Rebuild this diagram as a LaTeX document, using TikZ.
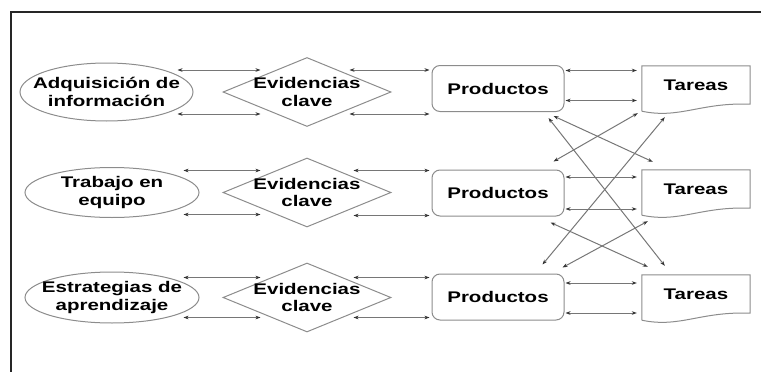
\documentclass[tikz,border=0pt]{standalone}
\usepackage{fontspec}
\newfontfamily\diagfont{Liberation Sans}[FakeStretch=1.33]
\usepackage{tikz}
\usetikzlibrary{positioning}
\usetikzlibrary{shapes.geometric,arrows.meta}
\usetikzlibrary{calc}
\definecolor{edgegray}{HTML}{8C8C8C}
\definecolor{linkgray}{HTML}{767676}
% outline of a Tareas node (document shape with wavy bottom)
\newcommand{\docoutline}[1]{%
  \draw[outline] ($(#1.south west)+(0,7)$) -- (#1.north west) -- (#1.north east) -- (#1.south east)
    .. controls ($(#1.south east)+(-50,-2)$) and ($(#1.south west)+(38,15)$) .. ($(#1.south west)+(0,7)$);}

\tikzset{
  every node/.style={font=\diagfont\bfseries\fontsize{15.4}{17.5}\selectfont,align=center},
  outline/.style={draw=edgegray,line width=1pt},
  meta/.style={ellipse,outline,inner sep=0pt},
  evid/.style={diamond,outline,inner sep=0pt,minimum width=168pt,minimum height=69pt},
  prod/.style={rectangle,rounded corners=8pt,outline,minimum width=132pt,minimum height=46pt},
  tarea/.style={rectangle,inner sep=0pt,minimum width=108pt,minimum height=38pt},
  link/.style={<->,draw=linkgray,line width=1pt},
}

\begin{document}
\begin{tikzpicture}[x=1pt,y=-1pt,>={Stealth[length=5pt,width=3.6pt,color=black!80]}]
  \useasboundingbox (0,0) rectangle (761,372);
  % frame
  \draw[line width=2pt,black!85] (761,12) -- (11,12) -- (11,372);
  % row 1
  \node[meta,minimum width=173pt,minimum height=58pt,label={center:Adquisición de\\información}] (ad1) at (106.5,92) {};
  \node[evid,label={center:Evidencias\\clave}] (ev1) at (307,92) {};
  \node[prod] (pr1) at (498,88.5) {Productos};
  \node[tarea] (ta1) at (696,85) {Tareas};
  \docoutline{ta1}
  % row 2
  \node[meta,minimum width=174pt,minimum height=50pt,label={center:Trabajo en\\equipo}] (ad2) at (112,192.5) {};
  \node[evid,label={center:Evidencias\\clave}] (ev2) at (307,192.5) {};
  \node[prod] (pr2) at (498,193) {Productos};
  \node[tarea] (ta2) at (696,189) {Tareas};
  \docoutline{ta2}
  % row 3
  \node[meta,minimum width=174pt,minimum height=51pt,label={center:Estrategias de\\aprendizaje}] (ad3) at (112,297.5) {};
  \node[evid,label={center:Evidencias\\clave}] (ev3) at (307,297.5) {};
  \node[prod] (pr3) at (498,297) {Productos};
  \node[tarea] (ta3) at (696,294) {Tareas};
  \docoutline{ta3}
  % pairs of arrows along each row
  \draw[link] ($(ad1.east)+(-16,-22)$) -- ($(ev1.west)+(38,-22)$);
  \draw[link] ($(ad1.east)+(-16,22)$) -- ($(ev1.west)+(38,22)$);
  \draw[link] ($(ad2.east)+(-16,-22)$) -- ($(ev2.west)+(38,-22)$);
  \draw[link] ($(ad2.east)+(-16,22)$) -- ($(ev2.west)+(38,22)$);
  \draw[link] ($(ad3.east)+(-16,-20)$) -- ($(ev3.west)+(38,-20)$);
  \draw[link] ($(ad3.east)+(-16,20)$) -- ($(ev3.west)+(38,20)$);
  \draw[link,shorten >=2pt] ($(ev1.east)+(-42,-22)$) coordinate (b1) -- (b1 -| pr1.west);
  \draw[link,shorten >=2pt] ($(ev1.east)+(-42,22)$) coordinate (b2) -- (b2 -| pr1.west);
  \draw[link,shorten >=2pt] ($(ev2.east)+(-38,-22)$) coordinate (b3) -- (b3 -| pr2.west);
  \draw[link,shorten >=2pt] ($(ev2.east)+(-38,23)$) coordinate (b4) -- (b4 -| pr2.west);
  \draw[link,shorten >=2pt] ($(ev3.east)+(-38,-20)$) coordinate (b5) -- (b5 -| pr3.west);
  \draw[link,shorten >=2pt] ($(ev3.east)+(-38,20)$) coordinate (b6) -- (b6 -| pr3.west);
  \draw[link,shorten >=5pt] ($(pr1.east)+(1,-18)$) coordinate (c1) -- (c1 -| ta1.west);
  \draw[link,shorten >=5pt] ($(pr1.east)+(1,12)$) coordinate (c2) -- (c2 -| ta1.west);
  \draw[link,shorten >=5pt] ($(pr2.east)+(1,-16)$) coordinate (c3) -- (c3 -| ta2.west);
  \draw[link,shorten >=5pt] ($(pr2.east)+(1,16)$) coordinate (c4) -- (c4 -| ta2.west);
  \draw[link,shorten >=5pt] ($(pr3.east)+(1,-14)$) coordinate (c5) -- (c5 -| ta3.west);
  \draw[link,shorten >=5pt] ($(pr3.east)+(1,16)$) coordinate (c6) -- (c6 -| ta3.west);
  % crossing arrows between Productos and Tareas
  \draw[link] ($(pr1.south east)+(-11,4)$) -- ($(ta2.north west)+(11,-8)$);
  \draw[link] ($(ta1.south west)+(-4,9)$) -- ($(pr2.north east)+(-11,-8)$);
  \draw[link] ($(pr1.south east)+(-16,6)$) -- ($(ta3.north west)+(23,-9)$);
  \draw[link] ($(ta1.south west)+(23,13)$) -- ($(pr3.north east)+(-22,-9)$);
  \draw[link] ($(pr2.south east)+(-14,6)$) -- ($(ta3.north west)+(6,-8)$);
  \draw[link] ($(ta2.south west)+(6,13)$) -- ($(pr3.north east)+(-2,-6)$);
\end{tikzpicture}
\end{document}
